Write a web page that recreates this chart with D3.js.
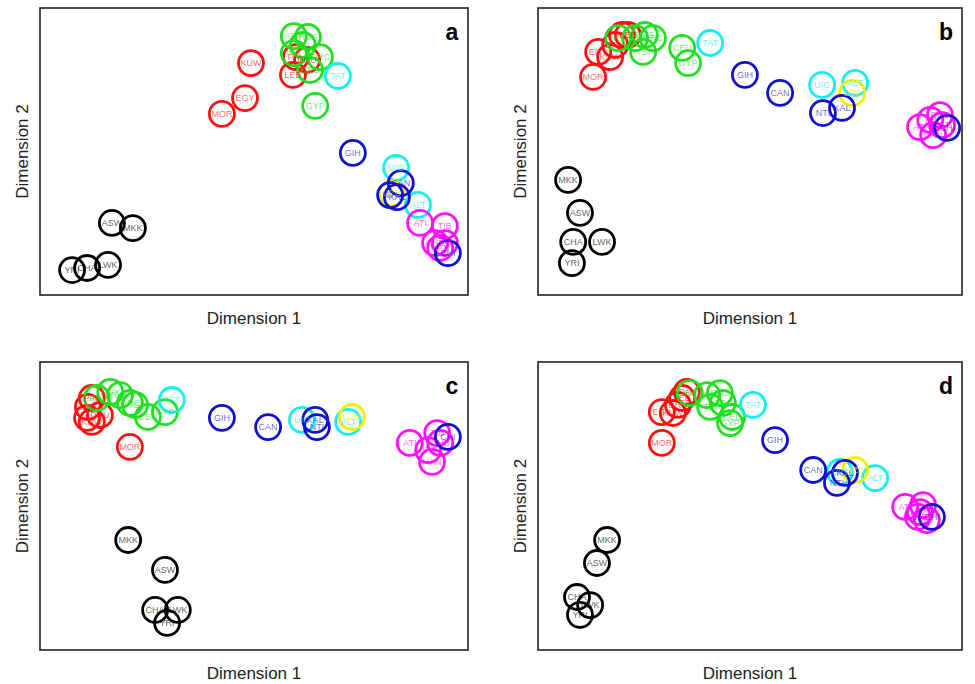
<!DOCTYPE html>
<html>
<head>
<meta charset="utf-8">
<script src="https://cdn.jsdelivr.net/npm/d3@7"></script>
<style>
  body { margin: 0; background: #fff; }
  svg { display: block; font-family: "Liberation Sans", Arial, sans-serif; }
</style>
</head>
<body>
<div id="chart"></div>
<script>
// population codes and colour group
const pops = ["YRI", "LWK", "MKK", "ASW", "CHA",
  "MOR", "EGY", "KUW", "PAL", "LEB", "DRU",
  "IRA", "ADY", "RUS", "ORC", "TSI", "CEU", "GYP",
  "TAT", "UIG", "ALT", "UZB",
  "GIH", "CAN", "NTI", "KAL",
  "ATI", "TIB", "CHB", "JPT", "HAN", "CHI"];
const groups = ["afr", "afr", "afr", "afr", "afr",
  "mea", "mea", "mea", "mea", "mea", "mea",
  "eur", "eur", "eur", "eur", "eur", "eur", "eur",
  "cas", "cas", "cas", "yel",
  "sas", "sas", "sas", "sas",
  "eas", "eas", "eas", "eas", "eas", "sas"];

// MDS coordinates (0-100 scale of each panel) per panel
const dim1A = [7.5, 15.9, 21.7, 16.8, 11.0, 42.5, 47.9, 49.3, 59.8, 59.1, 62.4, 59.3, 59.3, 62.6, 65.4, 61.4, 63.1, 64.3, 69.6, 83.2, 88.3, 82.2, 73.1, 84.3, 81.8, 83.4, 88.8, 94.6, 92.3, 94.6, 93.5, 95.3];
const dim2A = [8.7, 10.5, 23.3, 25.1, 9.4, 63.1, 68.6, 80.8, 82.9, 76.7, 81.9, 84.3, 90.2, 89.9, 82.9, 87.1, 78.4, 65.9, 76.3, 44.3, 31.4, 35.5, 49.5, 39.0, 34.8, 34.1, 25.1, 24.0, 18.1, 18.1, 16.4, 14.6];
const dim1B = [8.0, 15.1, 7.1, 9.9, 8.3, 13.0, 14.2, 17.0, 19.8, 21.2, 18.2, 18.9, 22.9, 25.2, 27.1, 24.8, 34.0, 35.4, 40.6, 67.0, 74.8, 74.1, 48.8, 57.1, 67.2, 71.7, 90.1, 92.5, 94.8, 95.3, 93.2, 96.5];
const dim2B = [11.1, 18.5, 40.1, 28.6, 18.5, 76.0, 84.7, 82.9, 90.6, 90.6, 87.1, 89.5, 89.5, 90.6, 89.5, 84.7, 86.1, 80.8, 87.8, 73.2, 73.9, 70.4, 76.7, 70.4, 63.4, 65.2, 58.5, 61.0, 62.7, 59.2, 55.7, 58.2];
const dim1C = [29.7, 32.2, 20.6, 29.2, 26.9, 21.0, 11.0, 12.1, 12.1, 11.2, 14.0, 13.3, 16.4, 18.7, 21.0, 22.2, 25.2, 29.2, 30.8, 61.2, 72.0, 72.9, 42.5, 53.3, 64.7, 64.3, 86.4, 92.8, 93.5, 90.7, 91.6, 95.3];
const dim2C = [9.4, 13.9, 38.2, 27.8, 13.9, 70.5, 80.6, 79.2, 87.5, 84.4, 81.6, 87.5, 89.6, 88.5, 85.8, 85.1, 80.9, 82.6, 86.8, 79.9, 79.2, 80.9, 80.6, 77.4, 77.4, 79.9, 71.9, 75.3, 71.9, 69.4, 65.3, 74.0];
const dim1D = [9.9, 12.3, 16.3, 13.9, 9.2, 29.2, 29.2, 31.8, 35.1, 34.0, 33.0, 35.8, 39.9, 42.9, 43.6, 40.6, 45.8, 45.3, 50.7, 71.2, 79.5, 74.8, 55.9, 64.9, 70.5, 72.4, 86.6, 90.8, 89.6, 91.7, 90.1, 92.9];
const dim2D = [12.2, 15.6, 38.2, 30.2, 18.4, 71.9, 82.6, 82.3, 89.6, 87.5, 85.1, 89.2, 88.5, 89.2, 85.8, 84.4, 80.9, 78.8, 85.1, 61.8, 59.7, 62.5, 72.9, 62.5, 58.0, 61.5, 49.7, 50.3, 46.2, 45.1, 47.9, 46.2];

const panelLetters = ["a", "b", "c", "d"];

const color = d3.scaleOrdinal()
  .domain(["afr", "mea", "eur", "cas", "yel", "sas", "eas"])
  .range(["#000000", "#ff1010", "#20e020", "#10f0f0", "#f0f000", "#1010d0", "#ff10ff"]);

const width = 975, height = 684;
const svg = d3.select("#chart").append("svg")
  .attr("width", width)
  .attr("height", height);

// frame of each panel
const frames = [
  { left: 40, top: 8, w: 428, h: 287, d1: dim1A, d2: dim2A },
  { left: 538, top: 8, w: 424, h: 287, d1: dim1B, d2: dim2B },
  { left: 40, top: 362, w: 428, h: 288, d1: dim1C, d2: dim2C },
  { left: 538, top: 362, w: 424, h: 288, d1: dim1D, d2: dim2D }
];

frames.forEach(function (f, i) {
  const g = svg.append("g").attr("transform", `translate(${f.left},${f.top})`);

  const x = d3.scaleLinear().domain([0, 100]).range([0, f.w]);
  const y = d3.scaleLinear().domain([0, 100]).range([f.h, 0]);

  const rows = pops.map((p, k) => ({ name: p, group: groups[k], a: f.d1[k], b: f.d2[k] }));

  // circles
  g.append("g").selectAll("circle")
    .data(rows)
    .join("circle")
    .attr("cx", d => x(d.a))
    .attr("cy", d => y(d.b))
    .attr("r", 12.5)
    .attr("fill", "none")
    .attr("stroke", d => color(d.group))
    .attr("stroke-width", 2.8);

  // labels
  g.append("g").selectAll("text")
    .data(rows)
    .join("text")
    .attr("x", d => x(d.a))
    .attr("y", d => y(d.b) + 3.2)
    .attr("text-anchor", "middle")
    .style("font-size", "9px")
    .attr("fill", d => color(d.group))
    .attr("fill-opacity", 0.65)
    .text(d => d.name);

  // box
  g.append("rect")
    .attr("width", f.w)
    .attr("height", f.h)
    .attr("fill", "none")
    .attr("stroke", "#222")
    .attr("stroke-width", 1.6);

  // panel letter
  g.append("text")
    .attr("x", f.w - 16)
    .attr("y", 32)
    .attr("text-anchor", "middle")
    .style("font-size", "23px")
    .style("font-weight", "bold")
    .text(panelLetters[i]);

  // axis titles
  g.append("text")
    .attr("x", f.w / 2)
    .attr("y", f.h + 29)
    .attr("text-anchor", "middle")
    .style("font-size", "17px")
    .attr("fill", "#222")
    .text("Dimension 1");

  g.append("text")
    .attr("transform", `translate(-12,${f.h / 2}) rotate(-90)`)
    .attr("text-anchor", "middle")
    .style("font-size", "17px")
    .attr("fill", "#222")
    .text("Dimension 2");
});
</script>
</body>
</html>
